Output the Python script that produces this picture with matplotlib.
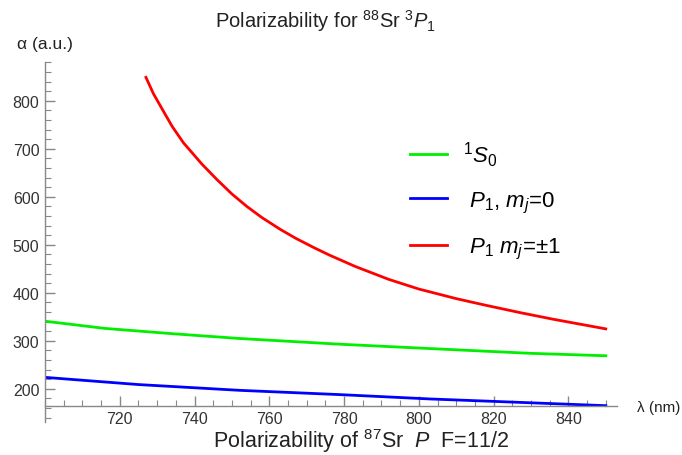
import numpy as np
import matplotlib
matplotlib.use("Agg")
import matplotlib.pyplot as plt
from matplotlib.ticker import MultipleLocator

plt.rcParams['font.family'] = ['Liberation Sans', 'DejaVu Sans']
plt.rcParams['mathtext.fontset'] = 'custom'
plt.rcParams['mathtext.rm'] = 'Liberation Sans'
plt.rcParams['mathtext.it'] = 'Liberation Sans:italic'
plt.rcParams['mathtext.bf'] = 'Liberation Sans:bold'

## valeurs (lambda en nm, alpha en u.a.)
lam_s0 = [700, 716, 734, 752, 779, 803, 830, 850]
alpha_s0 = [341, 326, 315, 305, 293, 284, 274, 269]

lam_p0 = [700, 725, 752, 779, 803, 830, 850]
alpha_p0 = [224, 209, 197, 188, 179, 171, 165]

lam_p1 = [727, 729, 732, 734, 737, 740, 742, 746, 750, 754, 758, 763, 767, 772,
          776, 783, 792, 800, 810, 818, 827, 836, 850]
alpha_p1 = [849, 815, 774, 747, 713, 686, 668, 636, 606, 580, 557, 532, 514, 494,
            479, 455, 428, 408, 388, 374, 359, 345, 325]

labels = [r'$^1S_0$', r'$\ P_1$, $m_j$=0', r'$\ P_1$ $m_j$=$\pm$1']
colors = ['#00ee00', '#0000ff', '#ff0000']

fig = plt.figure(figsize=(6.82, 4.56), dpi=100)
ax = fig.add_axes([45/682, 1-423/456, (617-45)/682, (423-63)/456])

ax.plot(lam_s0, alpha_s0, color=colors[0], lw=2, label=labels[0])
ax.plot(lam_p0, alpha_p0, color=colors[1], lw=2, label=labels[1])
ax.plot(lam_p1, alpha_p1, color=colors[2], lw=2, label=labels[2])

ax.set_xlim(700, 853)
ax.set_ylim(131, 881)

for s in ['top', 'right']:
    ax.spines[s].set_visible(False)
ax.spines['bottom'].set_position(('data', 165))
for s in ['left', 'bottom']:
    ax.spines[s].set_color('#888888')
    ax.spines[s].set_linewidth(1)

ax.xaxis.set_minor_locator(MultipleLocator(5))
ax.yaxis.set_minor_locator(MultipleLocator(20))
ax.set_xticks([720, 740, 760, 780, 800, 820, 840])
ax.set_yticks([200, 300, 400, 500, 600, 700, 800])

ax.tick_params(which='both', direction='in', color='#888888', labelcolor='#333333', labelsize=11.5)
ax.tick_params(which='major', length=7, width=1)
ax.tick_params(which='minor', length=4, width=0.8)
ax.tick_params(axis='x', pad=4)
ax.tick_params(axis='y', pad=4)

leg = ax.legend(loc='upper left', bbox_to_anchor=(410/682, 1-140/456), bbox_transform=fig.transFigure,
                frameon=False, fontsize=16, handlelength=1.65, handletextpad=0.75,
                labelspacing=0.95, borderpad=0, borderaxespad=0)

fig.text(326/682, 1-21/456, r'Polarizability for $^{88}$Sr $^3P_1$', ha='center', va='center',
         fontsize=14.5, color='#222222')
fig.text(17/682, 1-44/456, 'α (a.u.)', ha='left', va='center', fontsize=12.5, color='#222222')
fig.text(637/682, 1-408/456, 'λ (nm)', ha='left', va='center', fontsize=11, color='#222222')
fig.text(361/682, 1-441/456, r'Polarizability of $^{87}$Sr  $P$  F=11/2', ha='center', va='center',
         fontsize=15.5, color='#222222')

fig.savefig('out.png', dpi=100)
